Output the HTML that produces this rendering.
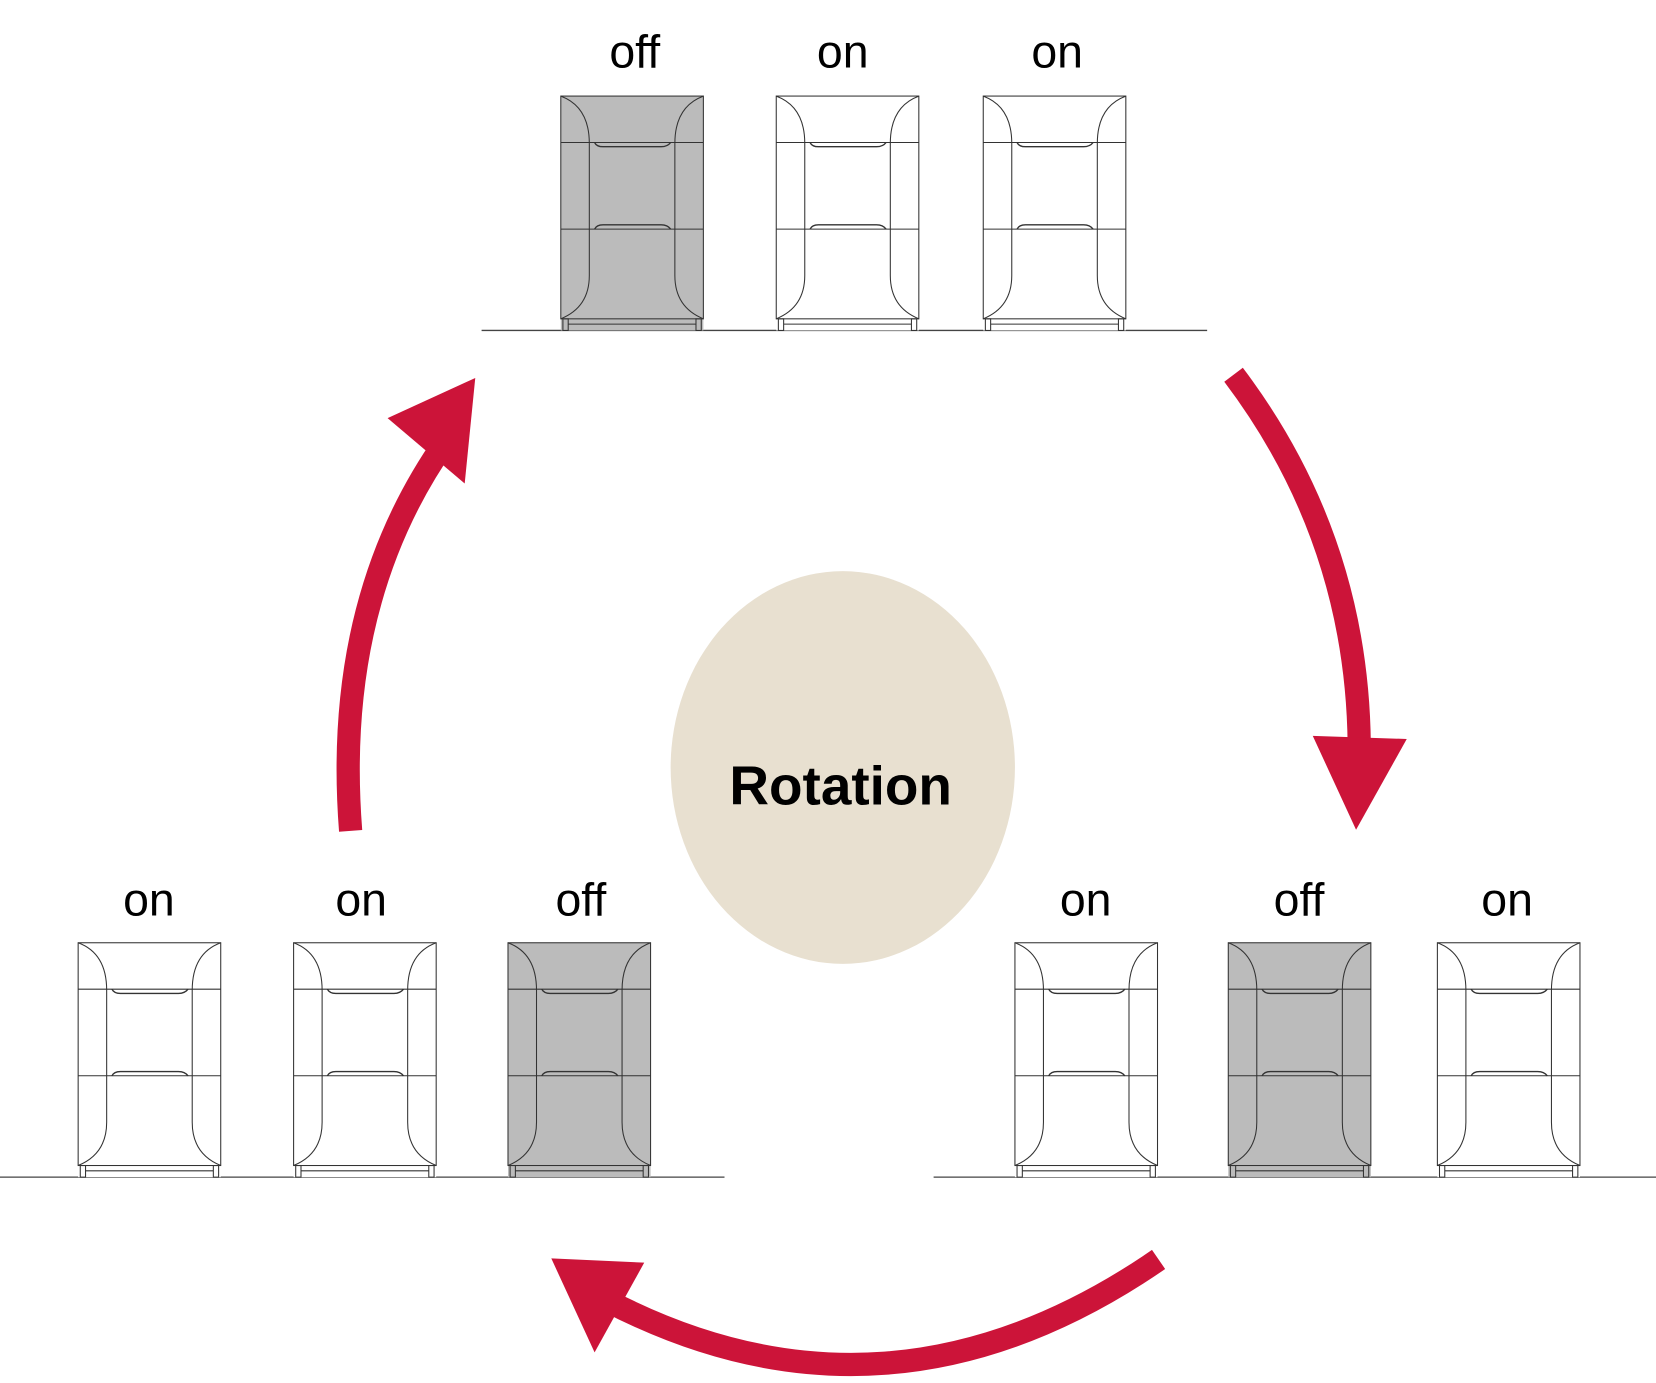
<!DOCTYPE html>
<html><head><meta charset="utf-8"><style>
html,body{margin:0;padding:0;background:#fff;}
svg{display:block;}
text{font-family:"Liberation Sans","DejaVu Sans",sans-serif;}
</style></head><body>
<svg width="1656" height="1383" viewBox="0 0 1568 1310" preserveAspectRatio="none" xmlns="http://www.w3.org/2000/svg">
<defs>
<g id="u-lines" fill="none" stroke="#333" stroke-width="1">
  <rect x="0" y="0" width="135" height="211"/>
  <path d="M0,0 Q27,10 27,45 L27,170 Q27,200 0,211"/>
  <path d="M135,0 Q108,10 108,45 L108,170 Q108,200 135,211"/>
  <line x1="0" y1="44" x2="135" y2="44"/>
  <line x1="0" y1="126" x2="135" y2="126"/>
  <path d="M32,44 Q34,48 40,48 L95,48 Q101,48 104,44" stroke-width="1.3"/>
  <path d="M32,126 Q34,122 40,122 L95,122 Q101,122 104,126" stroke-width="1.3"/>
  <rect x="2" y="211" width="5" height="11"/>
  <rect x="128" y="211" width="5" height="11"/>
  <line x1="7" y1="216" x2="128" y2="216"/>
</g>
<g id="on"><rect x="0" y="0" width="135" height="222" fill="#fff"/><use href="#u-lines"/></g>
<g id="off"><rect x="0" y="0" width="135" height="222" fill="#bbbbbb"/><use href="#u-lines"/></g>
</defs>

<!-- ground lines -->
<g stroke="#444" stroke-width="1.2">
<line x1="456" y1="313" x2="1143" y2="313"/>
<line x1="0" y1="1115" x2="686" y2="1115"/>
<line x1="884" y1="1115" x2="1568" y2="1115"/>
</g>

<use href="#off" x="531" y="91"/>
<use href="#on" x="735" y="91"/>
<use href="#on" x="931" y="91"/>
<use href="#on" x="74" y="893"/>
<use href="#on" x="278" y="893"/>
<use href="#off" x="481" y="893"/>
<use href="#on" x="961" y="893"/>
<use href="#off" x="1163" y="893"/>
<use href="#on" x="1361" y="893"/>

<g font-size="44" text-anchor="middle" fill="#000">
<text x="601" y="64">off</text>
<text x="798" y="64">on</text>
<text x="1001" y="64">on</text>
<text x="141" y="867">on</text>
<text x="342" y="867">on</text>
<text x="550" y="867">off</text>
<text x="1028" y="867">on</text>
<text x="1230" y="867">off</text>
<text x="1427" y="867">on</text>
</g>

<ellipse cx="798" cy="727" rx="163" ry="186" fill="#e8e0d0"/>
<text x="796" y="762" font-size="52" font-weight="bold" text-anchor="middle" fill="#000">Rotation</text>

<g fill="none" stroke="#cc1439" stroke-width="22">
<path d="M1168,355 Q1285,510 1287,705"/>
<path d="M1097,1193 Q840,1370 575,1232"/>
<path d="M332,787 Q315,570 422,418"/>
</g>
<g fill="#cc1439">
<polygon points="1243,697 1332,700 1284,786"/>
<polygon points="522,1192 610,1196 563,1281"/>
<polygon points="367,396 450,358 440,458"/>
</g>
</svg>
</body></html>
